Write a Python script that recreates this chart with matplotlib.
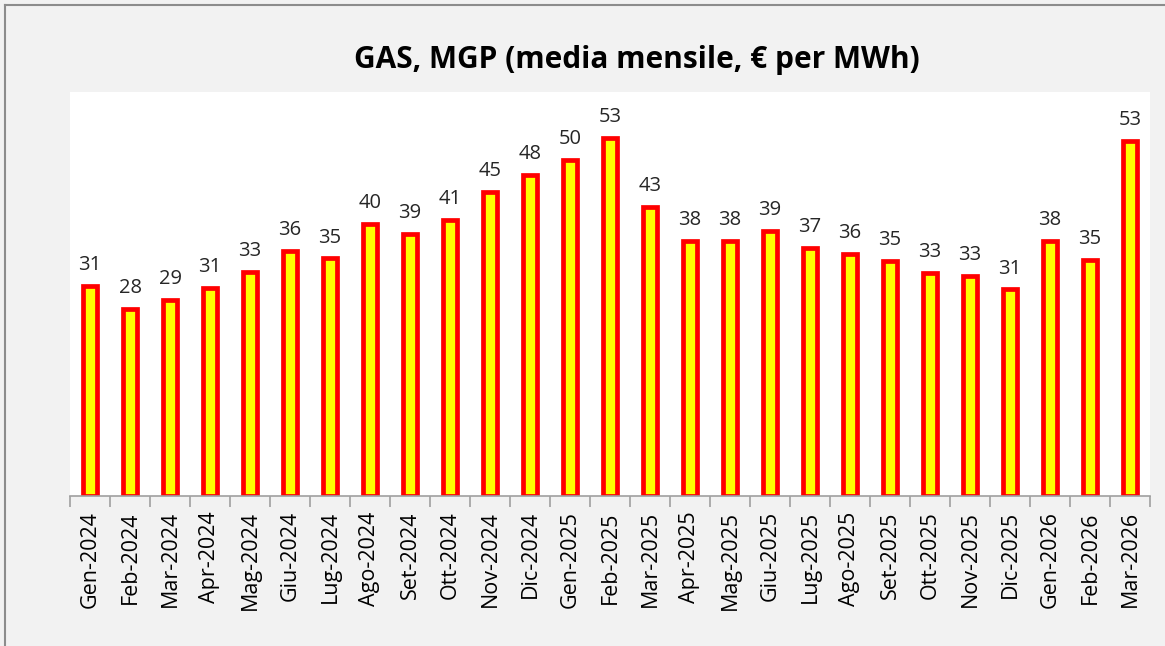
import matplotlib.pyplot as plt
from matplotlib.lines import Line2D
import numpy as np

# mesi e prezzo medio mensile del gas (MGP, euro per MWh)
mesi = ["Gen-2024", "Feb-2024", "Mar-2024", "Apr-2024", "Mag-2024", "Giu-2024",
        "Lug-2024", "Ago-2024", "Set-2024", "Ott-2024", "Nov-2024", "Dic-2024",
        "Gen-2025", "Feb-2025", "Mar-2025", "Apr-2025", "Mag-2025", "Giu-2025",
        "Lug-2025", "Ago-2025", "Set-2025", "Ott-2025", "Nov-2025", "Dic-2025",
        "Gen-2026", "Feb-2026", "Mar-2026"]
prezzi = [31.2, 27.8, 29.1, 30.9, 33.3, 36.4, 35.3, 40.4, 38.9, 41.0, 45.2, 47.7,
          49.9, 53.2, 42.9, 37.9, 37.9, 39.4, 36.8, 35.9, 34.9, 33.1, 32.7, 30.7,
          37.9, 35.1, 52.7]

plt.rcParams['font.family'] = ['Open Sans', 'DejaVu Sans']

fig = plt.figure(figsize=(11.65, 6.46), dpi=100)
fig.patch.set_facecolor('#f2f2f2')

# cornice grigia esterna (tagliata a destra e in basso)
fig.add_artist(Line2D([5 / 1165, 5 / 1165], [0, 1 - 5 / 646], color='#8c8c8c', lw=1.5))
fig.add_artist(Line2D([5 / 1165, 1], [1 - 5 / 646, 1 - 5 / 646], color='#8c8c8c', lw=1.5))

ax = fig.add_axes([70 / 1165, 150 / 646, 1080 / 1165, 404 / 646])
ax.set_facecolor('white')

x = np.arange(len(mesi))
bars = ax.bar(x, prezzi, width=0.37, color='#ffff00', edgecolor='#ff0000', linewidth=3.4, zorder=2)

for xi, v in zip(x, prezzi):
    ax.text(xi, v + 1.6, "%.0f" % v, ha='center', va='bottom', fontsize=14.5, color='#262626')

ax.set_xlim(-0.5, len(mesi) - 0.5)
ax.set_ylim(0, 60)
ax.set_yticks([])
ax.set_xticks(x)
ax.set_xticklabels(mesi, rotation=90, fontsize=15.5)
ax.set_xticks(np.arange(len(mesi) + 1) - 0.5, minor=True)
ax.tick_params(axis='x', which='major', length=0, pad=11)
ax.tick_params(axis='x', which='minor', length=8, color='#a0a0a0', width=1.2)

for s in ['top', 'left', 'right']:
    ax.spines[s].set_visible(False)
ax.spines['bottom'].set_color('#a0a0a0')
ax.spines['bottom'].set_linewidth(1.2)

fig.text(637 / 1165, 1 - 60 / 646, "GAS, MGP (media mensile, € per MWh)",
         ha='center', va='center', fontsize=21.5, fontweight='bold')

fig.savefig('out.png', dpi=100, facecolor=fig.get_facecolor())
